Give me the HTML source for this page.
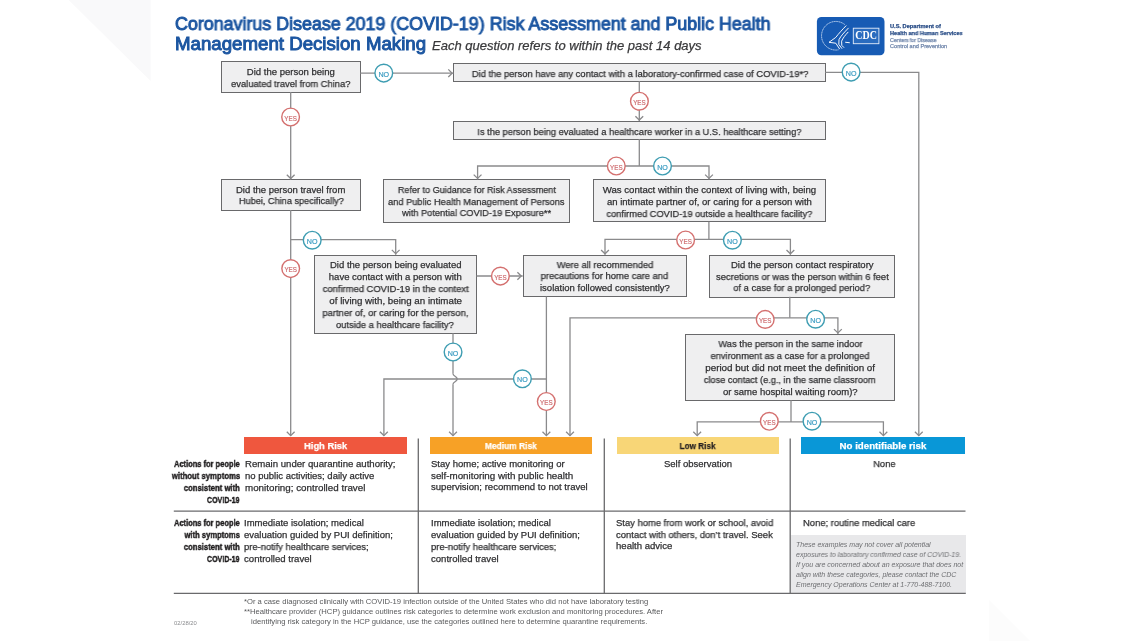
<!DOCTYPE html><html><head><meta charset="utf-8"><title>COVID-19 Risk Assessment</title><style>
html,body{margin:0;padding:0;background:#fff;}body{width:1140px;height:641px;position:relative;overflow:hidden;font-family:'Liberation Sans', Arial, sans-serif;}
.t{position:absolute;white-space:nowrap;will-change:transform;line-height:20px;height:20px;-webkit-text-stroke:0.25px currentColor;}
.bx{position:absolute;box-sizing:border-box;background:#efeff0;border:1.4px solid #69696b;}
.bar{position:absolute;}.lb{-webkit-text-stroke:0.45px currentColor;}.ns{-webkit-text-stroke:0;}.tt{-webkit-text-stroke:0.95px currentColor;}
svg{position:absolute;left:0;top:0;will-change:transform;}
</style></head><body>
<svg width="1140" height="641" style="z-index:0"><polygon points="68.7,0 150.6,0 150.6,81" fill="#f9f9fa"/><polygon points="989,600 989,641 1030,641" fill="#fcfcfc"/></svg>
<div class="bx" style="left:220.70px;top:61.30px;width:140.20px;height:31.40px"></div>
<div class="bx" style="left:453.40px;top:62.90px;width:372.50px;height:19.00px"></div>
<div class="bx" style="left:452.60px;top:120.80px;width:373.60px;height:18.90px"></div>
<div class="bx" style="left:382.90px;top:179.20px;width:187.40px;height:43.50px"></div>
<div class="bx" style="left:592.60px;top:179.10px;width:233.50px;height:43.40px"></div>
<div class="bx" style="left:220.90px;top:179.30px;width:140.20px;height:31.30px"></div>
<div class="bx" style="left:313.60px;top:254.50px;width:163.60px;height:79.40px"></div>
<div class="bx" style="left:522.50px;top:254.60px;width:164.10px;height:42.70px"></div>
<div class="bx" style="left:708.90px;top:254.50px;width:186.50px;height:43.00px"></div>
<div class="bx" style="left:685.10px;top:333.70px;width:209.80px;height:67.30px"></div>
<div class="bar" style="left:243.5px;top:437.0px;width:163.4px;height:16.6px;background:#ef573e"></div>
<div class="bar" style="left:430.0px;top:437.0px;width:162.3px;height:16.6px;background:#f7a126"></div>
<div class="bar" style="left:616.9px;top:437.0px;width:161.9px;height:16.6px;background:#f8d677"></div>
<div class="bar" style="left:801.3px;top:437.0px;width:163.5px;height:16.6px;background:#0997d7"></div>
<div class="bar" style="left:791.3px;top:534.7px;width:174.3px;height:58px;background:#e8e8ea"></div>
<svg width="1140" height="641" viewBox="0 0 1140 641">
<g fill="none" stroke="#8a8a8c" stroke-width="1.3">
<polyline points="360.2,73.2 453.6,73.2"/>
<polyline points="290.7,92.0 290.7,179.5"/>
<polyline points="825.2,72.3 918.8,72.3 918.8,435.6"/>
<polyline points="639.3,81.2 639.3,121.0"/>
<polyline points="639.3,139.0 639.3,166.0"/>
<polyline points="477.6,179.4 477.6,166.0 709.0,166.0 709.0,179.4"/>
<polyline points="290.7,209.9 290.7,435.6"/>
<polyline points="290.7,239.7 395.7,239.7 395.7,254.7"/>
<polyline points="476.5,276.0 522.7,276.0"/>
<polyline points="708.9,221.8 708.9,239.4"/>
<polyline points="605.0,254.8 605.0,239.4 790.4,239.4 790.4,254.8"/>
<polyline points="453.0,333.2 453.0,373.8"/>
<polyline points="453.0,384.2 453.0,435.6"/>
<polyline points="546.4,296.6 546.4,435.6"/>
<polyline points="546.4,379.0 383.9,379.0 383.9,435.6"/>
<polyline points="789.8,296.8 789.8,317.8"/>
<polyline points="570.0,435.6 570.0,317.8 837.9,317.8 837.9,333.9"/>
<polyline points="791.0,400.3 791.0,421.9"/>
<polyline points="697.2,435.6 697.2,421.9 883.4,421.9 883.4,435.6"/>
<path d="M453,373.8 C453,376.2 457.2,376.4 457.2,379 C457.2,381.6 453,381.8 453,384.2"/>
<polyline points="448.3,69.4 452.1,73.2 448.3,77.0"/>
<polyline points="286.8,174.7 290.7,178.5 294.6,174.7"/>
<polyline points="914.9,431.8 918.8,435.6 922.7,431.8"/>
<polyline points="635.4,116.2 639.3,120.0 643.2,116.2"/>
<polyline points="473.7,174.6 477.6,178.4 481.5,174.6"/>
<polyline points="705.1,174.6 709.0,178.4 712.9,174.6"/>
<polyline points="286.8,431.8 290.7,435.6 294.6,431.8"/>
<polyline points="391.8,249.9 395.7,253.7 399.6,249.9"/>
<polyline points="517.4,272.2 521.2,276.0 517.4,279.8"/>
<polyline points="601.1,250.0 605.0,253.8 608.9,250.0"/>
<polyline points="786.5,250.0 790.4,253.8 794.3,250.0"/>
<polyline points="449.1,431.8 453.0,435.6 456.9,431.8"/>
<polyline points="542.5,431.8 546.4,435.6 550.3,431.8"/>
<polyline points="380.0,431.8 383.9,435.6 387.8,431.8"/>
<polyline points="566.1,431.8 570.0,435.6 573.9,431.8"/>
<polyline points="834.0,329.1 837.9,332.9 841.8,329.1"/>
<polyline points="693.3,431.8 697.2,435.6 701.1,431.8"/>
<polyline points="879.5,431.8 883.4,435.6 887.3,431.8"/>
</g>
<g stroke="#6a6a6c" stroke-width="1.3" fill="none">
<line x1="173.8" y1="511.2" x2="965.5" y2="511.2"/>
<line x1="173.8" y1="593.4" x2="965.8" y2="593.4"/>
<line x1="418.3" y1="438.6" x2="418.3" y2="593.4"/>
<line x1="604.3" y1="438.6" x2="604.3" y2="593.4"/>
<line x1="790.2" y1="438.6" x2="790.2" y2="593.4"/>
</g>
<circle cx="383.80" cy="73.10" r="8.85" fill="#fff" stroke="#3e9db2" stroke-width="1.4"/>
<text x="383.80" y="76.60" text-anchor="middle" font-family="Liberation Sans, sans-serif" font-size="8.1" fill="#3b9cc2" stroke="#3b9cc2" stroke-width="0.2" textLength="10.7" lengthAdjust="spacingAndGlyphs">NO</text>
<circle cx="290.60" cy="117.00" r="8.85" fill="#fff" stroke="#d4706f" stroke-width="1.4"/>
<text x="290.60" y="120.50" text-anchor="middle" font-family="Liberation Sans, sans-serif" font-size="8.1" fill="#cd6b6e" stroke="#cd6b6e" stroke-width="0.2" textLength="12.5" lengthAdjust="spacingAndGlyphs">YES</text>
<circle cx="851.10" cy="72.10" r="8.85" fill="#fff" stroke="#3e9db2" stroke-width="1.4"/>
<text x="851.10" y="75.60" text-anchor="middle" font-family="Liberation Sans, sans-serif" font-size="8.1" fill="#3b9cc2" stroke="#3b9cc2" stroke-width="0.2" textLength="10.7" lengthAdjust="spacingAndGlyphs">NO</text>
<circle cx="639.40" cy="101.20" r="8.85" fill="#fff" stroke="#d4706f" stroke-width="1.4"/>
<text x="639.40" y="104.70" text-anchor="middle" font-family="Liberation Sans, sans-serif" font-size="8.1" fill="#cd6b6e" stroke="#cd6b6e" stroke-width="0.2" textLength="12.5" lengthAdjust="spacingAndGlyphs">YES</text>
<circle cx="616.30" cy="166.00" r="8.85" fill="#fff" stroke="#d4706f" stroke-width="1.4"/>
<text x="616.30" y="169.50" text-anchor="middle" font-family="Liberation Sans, sans-serif" font-size="8.1" fill="#cd6b6e" stroke="#cd6b6e" stroke-width="0.2" textLength="12.5" lengthAdjust="spacingAndGlyphs">YES</text>
<circle cx="662.50" cy="166.00" r="8.85" fill="#fff" stroke="#3e9db2" stroke-width="1.4"/>
<text x="662.50" y="169.50" text-anchor="middle" font-family="Liberation Sans, sans-serif" font-size="8.1" fill="#3b9cc2" stroke="#3b9cc2" stroke-width="0.2" textLength="10.7" lengthAdjust="spacingAndGlyphs">NO</text>
<circle cx="290.70" cy="268.60" r="8.85" fill="#fff" stroke="#d4706f" stroke-width="1.4"/>
<text x="290.70" y="272.10" text-anchor="middle" font-family="Liberation Sans, sans-serif" font-size="8.1" fill="#cd6b6e" stroke="#cd6b6e" stroke-width="0.2" textLength="12.5" lengthAdjust="spacingAndGlyphs">YES</text>
<circle cx="312.20" cy="240.20" r="8.85" fill="#fff" stroke="#3e9db2" stroke-width="1.4"/>
<text x="312.20" y="243.70" text-anchor="middle" font-family="Liberation Sans, sans-serif" font-size="8.1" fill="#3b9cc2" stroke="#3b9cc2" stroke-width="0.2" textLength="10.7" lengthAdjust="spacingAndGlyphs">NO</text>
<circle cx="500.40" cy="276.10" r="8.85" fill="#fff" stroke="#d4706f" stroke-width="1.4"/>
<text x="500.40" y="279.60" text-anchor="middle" font-family="Liberation Sans, sans-serif" font-size="8.1" fill="#cd6b6e" stroke="#cd6b6e" stroke-width="0.2" textLength="12.5" lengthAdjust="spacingAndGlyphs">YES</text>
<circle cx="685.60" cy="240.00" r="8.85" fill="#fff" stroke="#d4706f" stroke-width="1.4"/>
<text x="685.60" y="243.50" text-anchor="middle" font-family="Liberation Sans, sans-serif" font-size="8.1" fill="#cd6b6e" stroke="#cd6b6e" stroke-width="0.2" textLength="12.5" lengthAdjust="spacingAndGlyphs">YES</text>
<circle cx="732.40" cy="240.20" r="8.85" fill="#fff" stroke="#3e9db2" stroke-width="1.4"/>
<text x="732.40" y="243.70" text-anchor="middle" font-family="Liberation Sans, sans-serif" font-size="8.1" fill="#3b9cc2" stroke="#3b9cc2" stroke-width="0.2" textLength="10.7" lengthAdjust="spacingAndGlyphs">NO</text>
<circle cx="453.05" cy="352.00" r="8.85" fill="#fff" stroke="#3e9db2" stroke-width="1.4"/>
<text x="453.05" y="355.50" text-anchor="middle" font-family="Liberation Sans, sans-serif" font-size="8.1" fill="#3b9cc2" stroke="#3b9cc2" stroke-width="0.2" textLength="10.7" lengthAdjust="spacingAndGlyphs">NO</text>
<circle cx="546.30" cy="401.50" r="8.85" fill="#fff" stroke="#d4706f" stroke-width="1.4"/>
<text x="546.30" y="405.00" text-anchor="middle" font-family="Liberation Sans, sans-serif" font-size="8.1" fill="#cd6b6e" stroke="#cd6b6e" stroke-width="0.2" textLength="12.5" lengthAdjust="spacingAndGlyphs">YES</text>
<circle cx="522.40" cy="378.80" r="8.85" fill="#fff" stroke="#3e9db2" stroke-width="1.4"/>
<text x="522.40" y="382.30" text-anchor="middle" font-family="Liberation Sans, sans-serif" font-size="8.1" fill="#3b9cc2" stroke="#3b9cc2" stroke-width="0.2" textLength="10.7" lengthAdjust="spacingAndGlyphs">NO</text>
<circle cx="765.20" cy="319.40" r="8.85" fill="#fff" stroke="#d4706f" stroke-width="1.4"/>
<text x="765.20" y="322.90" text-anchor="middle" font-family="Liberation Sans, sans-serif" font-size="8.1" fill="#cd6b6e" stroke="#cd6b6e" stroke-width="0.2" textLength="12.5" lengthAdjust="spacingAndGlyphs">YES</text>
<circle cx="815.60" cy="319.20" r="8.85" fill="#fff" stroke="#3e9db2" stroke-width="1.4"/>
<text x="815.60" y="322.70" text-anchor="middle" font-family="Liberation Sans, sans-serif" font-size="8.1" fill="#3b9cc2" stroke="#3b9cc2" stroke-width="0.2" textLength="10.7" lengthAdjust="spacingAndGlyphs">NO</text>
<circle cx="769.30" cy="421.30" r="8.85" fill="#fff" stroke="#d4706f" stroke-width="1.4"/>
<text x="769.30" y="424.80" text-anchor="middle" font-family="Liberation Sans, sans-serif" font-size="8.1" fill="#cd6b6e" stroke="#cd6b6e" stroke-width="0.2" textLength="12.5" lengthAdjust="spacingAndGlyphs">YES</text>
<circle cx="812.00" cy="421.20" r="8.85" fill="#fff" stroke="#3e9db2" stroke-width="1.4"/>
<text x="812.00" y="424.70" text-anchor="middle" font-family="Liberation Sans, sans-serif" font-size="8.1" fill="#3b9cc2" stroke="#3b9cc2" stroke-width="0.2" textLength="10.7" lengthAdjust="spacingAndGlyphs">NO</text>
<rect x="816.9" y="16.9" width="67.6" height="38.4" rx="4.5" fill="#175bb4"/>
<path d="M844.8,24.6 A14.3,14.3 0 1 0 838.5,49.8" fill="none" stroke="#cfe0f5" stroke-width="0.9" stroke-dasharray="1.3,0.45"/>
<g fill="none" stroke="#fff" stroke-width="0.95" stroke-linejoin="round" stroke-linecap="round">
<path d="M846,25.8 C842,30 838.5,33.8 835.8,37.4 L829,42.3 L835.8,43.2 L839.5,48.8"/>
<path d="M848.3,28.2 C844.2,32.4 840.8,36 839,39.6 L838.8,44.4 L841.8,48.4"/>
<path d="M848,32.2 C845.2,35.2 842.8,38.2 841.6,41.2 L841.8,45.4 L843.8,47.4"/>
<path d="M845.6,42.3 L849.4,42.7"/>
</g>
<rect x="853.3" y="28.2" width="25.6" height="15.5" fill="#2a6cbf" stroke="#e6eefa" stroke-width="0.9"/>
<text x="866.1" y="39.4" text-anchor="middle" font-family="Liberation Serif, serif" font-weight="bold" font-size="12.6" fill="#fff" textLength="21.6" lengthAdjust="spacingAndGlyphs">CDC</text>
</svg>
<div class="t tt" style="left:175.20px;top:13.66px;width:600.27px;font-size:18px;color:#1c56a1;transform:scaleX(0.9921);transform-origin:0 0;">Coronavirus Disease 2019 (COVID-19) Risk Assessment and Public Health</div>
<div class="t tt" style="left:175.20px;top:33.86px;width:242.12px;font-size:18px;color:#1c56a1;transform:scaleX(1.0371);transform-origin:0 0;">Management Decision Making</div>
<div class="t" style="left:431.80px;top:35.60px;width:263.08px;font-size:12.7px;color:#3a3a3c;font-style:italic;transform:scaleX(1.0248);transform-origin:0 0;">Each question refers to within the past 14 days</div>
<div class="t" style="left:246.96px;top:62.31px;width:87.67px;font-size:9.5px;color:#2f2f31;transform:scaleX(1.0037);transform-origin:50% 0;">Did the person being</div>
<div class="t" style="left:230.07px;top:73.91px;width:121.47px;font-size:9.5px;color:#2f2f31;transform:scaleX(0.9821);transform-origin:50% 0;">evaluated travel from China?</div>
<div class="t" style="left:468.56px;top:63.61px;width:342.17px;font-size:9.5px;color:#2f2f31;transform:scaleX(0.9834);transform-origin:50% 0;">Did the person have any contact with a laboratory-confirmed case of COVID-19*?</div>
<div class="t" style="left:473.04px;top:121.51px;width:332.72px;font-size:9.5px;color:#2f2f31;transform:scaleX(0.9738);transform-origin:50% 0;">Is the person being evaluated a healthcare worker in a U.S. healthcare setting?</div>
<div class="t" style="left:393.70px;top:180.31px;width:165.80px;font-size:9.5px;color:#2f2f31;transform:scaleX(0.9530);transform-origin:50% 0;">Refer to Guidance for Risk Assessment</div>
<div class="t" style="left:386.30px;top:191.86px;width:180.61px;font-size:9.5px;color:#2f2f31;transform:scaleX(0.9778);transform-origin:50% 0;">and Public Health Management of Persons</div>
<div class="t" style="left:400.03px;top:203.41px;width:153.14px;font-size:9.5px;color:#2f2f31;transform:scaleX(0.9730);transform-origin:50% 0;">with Potential COVID-19 Exposure**</div>
<div class="t" style="left:603.91px;top:180.21px;width:210.88px;font-size:9.5px;color:#2f2f31;transform:scaleX(1.0124);transform-origin:50% 0;">Was contact within the context of living with, being</div>
<div class="t" style="left:606.90px;top:191.96px;width:204.89px;font-size:9.5px;color:#2f2f31;">an intimate partner of, or caring for a person with</div>
<div class="t" style="left:604.01px;top:203.71px;width:210.69px;font-size:9.5px;color:#2f2f31;transform:scaleX(0.9763);transform-origin:50% 0;">confirmed COVID-19 outside a healthcare facility?</div>
<div class="t" style="left:236.35px;top:180.01px;width:109.30px;font-size:9.5px;color:#2f2f31;">Did the person travel from</div>
<div class="t" style="left:236.61px;top:191.41px;width:108.78px;font-size:9.5px;color:#2f2f31;transform:scaleX(0.9643);transform-origin:50% 0;">Hubei, China specifically?</div>
<div class="t" style="left:329.64px;top:254.61px;width:131.52px;font-size:9.5px;color:#2f2f31;">Did the person being evaluated</div>
<div class="t" style="left:329.13px;top:266.67px;width:132.55px;font-size:9.5px;color:#2f2f31;transform:scaleX(1.0034);transform-origin:50% 0;">have contact with a person with</div>
<div class="t" style="left:321.74px;top:278.73px;width:147.33px;font-size:9.5px;color:#2f2f31;transform:scaleX(0.9910);transform-origin:50% 0;">confirmed COVID-19 in the context</div>
<div class="t" style="left:330.70px;top:290.79px;width:129.39px;font-size:9.5px;color:#2f2f31;transform:scaleX(1.0256);transform-origin:50% 0;">of living with, being an intimate</div>
<div class="t" style="left:321.99px;top:302.85px;width:146.81px;font-size:9.5px;color:#2f2f31;transform:scaleX(0.9945);transform-origin:50% 0;">partner of, or caring for the person,</div>
<div class="t" style="left:335.45px;top:314.91px;width:119.89px;font-size:9.5px;color:#2f2f31;transform:scaleX(0.9842);transform-origin:50% 0;">outside a healthcare facility?</div>
<div class="t" style="left:555.53px;top:254.61px;width:98.05px;font-size:9.5px;color:#2f2f31;transform:scaleX(0.9863);transform-origin:50% 0;">Were all recommended</div>
<div class="t" style="left:540.12px;top:266.46px;width:128.86px;font-size:9.5px;color:#2f2f31;transform:scaleX(0.9902);transform-origin:50% 0;">precautions for home care and</div>
<div class="t" style="left:539.60px;top:278.31px;width:129.91px;font-size:9.5px;color:#2f2f31;">isolation followed consistently?</div>
<div class="t" style="left:730.86px;top:255.01px;width:142.58px;font-size:9.5px;color:#2f2f31;">Did the person contact respiratory</div>
<div class="t" style="left:714.75px;top:266.61px;width:174.80px;font-size:9.5px;color:#2f2f31;transform:scaleX(0.9886);transform-origin:50% 0;">secretions or was the person within 6 feet</div>
<div class="t" style="left:732.43px;top:278.21px;width:139.44px;font-size:9.5px;color:#2f2f31;transform:scaleX(0.9811);transform-origin:50% 0;">of a case for a prolonged period?</div>
<div class="t" style="left:716.51px;top:333.81px;width:146.98px;font-size:9.5px;color:#2f2f31;transform:scaleX(0.9811);transform-origin:50% 0;">Was the person in the same indoor</div>
<div class="t" style="left:708.93px;top:345.88px;width:162.14px;font-size:9.5px;color:#2f2f31;transform:scaleX(0.9806);transform-origin:50% 0;">environment as a case for a prolonged</div>
<div class="t" style="left:707.87px;top:357.95px;width:164.27px;font-size:9.5px;color:#2f2f31;transform:scaleX(1.0337);transform-origin:50% 0;">period but did not meet the definition of</div>
<div class="t" style="left:701.29px;top:370.02px;width:177.42px;font-size:9.5px;color:#2f2f31;transform:scaleX(0.9683);transform-origin:50% 0;">close contact (e.g., in the same classroom</div>
<div class="t" style="left:722.67px;top:382.09px;width:134.66px;font-size:9.5px;color:#2f2f31;">or same hospital waiting room)?</div>
<div class="t" style="left:303.57px;top:436.34px;width:43.25px;font-size:9.4px;color:#ffffff;font-weight:bold;transform:scaleX(0.9942);transform-origin:50% 0;">High Risk</div>
<div class="t" style="left:482.24px;top:436.34px;width:57.83px;font-size:9.4px;color:#ffffff;font-weight:bold;transform:scaleX(0.8992);transform-origin:50% 0;">Medium Risk</div>
<div class="t" style="left:677.27px;top:436.34px;width:41.16px;font-size:9.4px;color:#231f20;font-weight:bold;transform:scaleX(0.8747);transform-origin:50% 0;">Low Risk</div>
<div class="t" style="left:841.11px;top:436.34px;width:83.88px;font-size:9.4px;color:#ffffff;font-weight:bold;transform:scaleX(1.0349);transform-origin:50% 0;">No identifiable risk</div>
<div class="t lb" style="left:153.11px;top:454.17px;width:86.69px;font-size:9.9px;color:#1e1c1d;font-weight:bold;transform:scaleX(0.7579);transform-origin:100% 0;">Actions for people</div>
<div class="t lb" style="left:152.57px;top:466.07px;width:87.23px;font-size:9.9px;color:#1e1c1d;font-weight:bold;transform:scaleX(0.7841);transform-origin:100% 0;">without symptoms</div>
<div class="t lb" style="left:167.93px;top:477.97px;width:71.88px;font-size:9.9px;color:#1e1c1d;font-weight:bold;transform:scaleX(0.7805);transform-origin:100% 0;">consistent with</div>
<div class="t lb" style="left:194.25px;top:489.87px;width:45.55px;font-size:9.9px;color:#1e1c1d;font-weight:bold;transform:scaleX(0.7157);transform-origin:100% 0;">COVID-19</div>
<div class="t lb" style="left:153.11px;top:512.67px;width:86.69px;font-size:9.9px;color:#1e1c1d;font-weight:bold;transform:scaleX(0.7579);transform-origin:100% 0;">Actions for people</div>
<div class="t lb" style="left:167.91px;top:524.64px;width:71.89px;font-size:9.9px;color:#1e1c1d;font-weight:bold;transform:scaleX(0.7706);transform-origin:100% 0;">with symptoms</div>
<div class="t lb" style="left:167.93px;top:536.61px;width:71.88px;font-size:9.9px;color:#1e1c1d;font-weight:bold;transform:scaleX(0.7805);transform-origin:100% 0;">consistent with</div>
<div class="t lb" style="left:194.25px;top:548.58px;width:45.55px;font-size:9.9px;color:#1e1c1d;font-weight:bold;transform:scaleX(0.7157);transform-origin:100% 0;">COVID-19</div>
<div class="t" style="left:244.80px;top:454.21px;width:148.94px;font-size:9.5px;color:#2f2f31;transform:scaleX(1.0105);transform-origin:0 0;">Remain under quarantine authority;</div>
<div class="t" style="left:244.80px;top:465.91px;width:129.38px;font-size:9.5px;color:#2f2f31;">no public activities; daily active</div>
<div class="t" style="left:244.80px;top:477.61px;width:116.70px;font-size:9.5px;color:#2f2f31;transform:scaleX(1.0317);transform-origin:0 0;">monitoring; controlled travel</div>
<div class="t" style="left:431.40px;top:454.01px;width:133.59px;font-size:9.5px;color:#2f2f31;">Stay home; active monitoring or</div>
<div class="t" style="left:431.40px;top:465.66px;width:137.83px;font-size:9.5px;color:#2f2f31;transform:scaleX(1.0310);transform-origin:0 0;">self-monitoring with public health</div>
<div class="t" style="left:431.40px;top:477.31px;width:155.78px;font-size:9.5px;color:#2f2f31;transform:scaleX(1.0059);transform-origin:0 0;">supervision; recommend to not travel</div>
<div class="t" style="left:664.14px;top:453.51px;width:68.12px;font-size:9.5px;color:#2f2f31;">Self observation</div>
<div class="t" style="left:873.44px;top:453.51px;width:22.72px;font-size:9.5px;color:#2f2f31;transform:scaleX(0.9728);transform-origin:50% 0;">None</div>
<div class="t" style="left:244.40px;top:512.91px;width:119.86px;font-size:9.5px;color:#2f2f31;">Immediate isolation; medical</div>
<div class="t" style="left:244.40px;top:524.88px;width:148.94px;font-size:9.5px;color:#2f2f31;">evaluation guided by PUI definition;</div>
<div class="t" style="left:244.40px;top:536.85px;width:126.73px;font-size:9.5px;color:#2f2f31;transform:scaleX(0.9839);transform-origin:0 0;">pre-notify healthcare services;</div>
<div class="t" style="left:244.40px;top:548.82px;width:67.06px;font-size:9.5px;color:#2f2f31;transform:scaleX(1.0095);transform-origin:0 0;">controlled travel</div>
<div class="t" style="left:430.70px;top:512.91px;width:119.86px;font-size:9.5px;color:#2f2f31;">Immediate isolation; medical</div>
<div class="t" style="left:430.70px;top:524.88px;width:148.94px;font-size:9.5px;color:#2f2f31;">evaluation guided by PUI definition;</div>
<div class="t" style="left:430.70px;top:536.85px;width:126.73px;font-size:9.5px;color:#2f2f31;transform:scaleX(0.9887);transform-origin:0 0;">pre-notify healthcare services;</div>
<div class="t" style="left:430.70px;top:548.82px;width:67.06px;font-size:9.5px;color:#2f2f31;transform:scaleX(1.0080);transform-origin:0 0;">controlled travel</div>
<div class="t" style="left:616.00px;top:512.81px;width:158.94px;font-size:9.5px;color:#2f2f31;transform:scaleX(0.9897);transform-origin:0 0;">Stay home from work or school, avoid</div>
<div class="t" style="left:616.00px;top:524.61px;width:157.89px;font-size:9.5px;color:#2f2f31;transform:scaleX(0.9925);transform-origin:0 0;">contact with others, don’t travel. Seek</div>
<div class="t" style="left:616.00px;top:536.41px;width:55.98px;font-size:9.5px;color:#2f2f31;transform:scaleX(1.0056);transform-origin:0 0;">health advice</div>
<div class="t" style="left:802.50px;top:512.61px;width:113.55px;font-size:9.5px;color:#2f2f31;transform:scaleX(0.9881);transform-origin:0 0;">None; routine medical care</div>
<div class="t ns" style="left:795.80px;top:535.27px;width:134.62px;font-size:7.0px;color:#6d6e71;font-style:italic;">These examples may not cover all potential</div>
<div class="t ns" style="left:795.80px;top:545.20px;width:166.53px;font-size:7.0px;color:#6d6e71;font-style:italic;transform:scaleX(0.9908);transform-origin:0 0;">exposures to laboratory confirmed case of COVID-19.</div>
<div class="t ns" style="left:795.80px;top:555.13px;width:166.17px;font-size:7.0px;color:#6d6e71;font-style:italic;transform:scaleX(1.0062);transform-origin:0 0;">If you are concerned about an exposure that does not</div>
<div class="t ns" style="left:795.80px;top:565.06px;width:160.31px;font-size:7.0px;color:#6d6e71;font-style:italic;">align with these categories, please contact the CDC</div>
<div class="t ns" style="left:795.80px;top:574.99px;width:156.05px;font-size:7.0px;color:#6d6e71;font-style:italic;">Emergency Operations Center at 1-770-488-7100.</div>
<div class="t ns" style="left:244.40px;top:592.07px;width:386.14px;font-size:7.3px;color:#58595b;transform:scaleX(1.0468);transform-origin:0 0;">*Or a case diagnosed clinically with COVID-19 infection outside of the United States who did not have laboratory testing</div>
<div class="t ns" style="left:244.40px;top:602.07px;width:399.91px;font-size:7.3px;color:#58595b;transform:scaleX(1.0477);transform-origin:0 0;">**Healthcare provider (HCP) guidance outlines risk categories to determine work exclusion and monitoring procedures. After</div>
<div class="t ns" style="left:251.00px;top:611.67px;width:378.72px;font-size:7.3px;color:#58595b;transform:scaleX(1.0464);transform-origin:0 0;">identifying risk category in the HCP guidance, use the categories outlined here to determine quarantine requirements.</div>
<div class="t ns" style="left:173.90px;top:612.77px;width:19.47px;font-size:5.0px;color:#8a8b8e;transform:scaleX(1.1762);transform-origin:0 0;">02/28/20</div>
<div class="t" style="left:890.40px;top:16.26px;width:50.36px;font-size:5.6px;color:#284c86;font-weight:bold;transform:scaleX(1.0107);transform-origin:0 0;">U.S. Department of</div>
<div class="t" style="left:890.40px;top:22.76px;width:73.69px;font-size:5.6px;color:#284c86;font-weight:bold;transform:scaleX(0.9852);transform-origin:0 0;">Health and Human Services</div>
<div class="t" style="left:890.40px;top:29.93px;width:47.64px;font-size:5.4px;color:#6f86ab;transform:scaleX(0.9740);transform-origin:0 0;">Centers for Disease</div>
<div class="t" style="left:890.40px;top:36.03px;width:55.14px;font-size:5.4px;color:#6f86ab;transform:scaleX(1.0355);transform-origin:0 0;">Control and Prevention</div>
</body></html>
